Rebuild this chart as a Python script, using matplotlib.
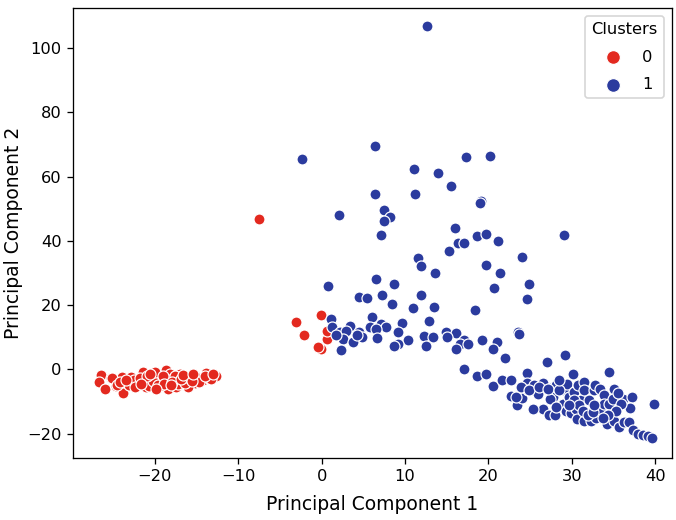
import numpy as np
import matplotlib
matplotlib.use("Agg")
import matplotlib.pyplot as plt

# PCA scores, (PC1, PC2) per point
cluster0_points = [
    (-26.4, -1.7), (-26.7, -3.9), (-26.0, -6.2), (-25.2, -2.6), (-24.6, -5.2),
    (-23.9, -2.4), (-23.8, -7.3), (-22.9, -2.4), (-23.1, -4.7), (-21.3, -1.9),
    (-21.4, -0.8), (-20.4, -3.9), (-19.2, -3.2), (-18.7, -0.1), (-18.4, -6.0),
    (-17.7, -2.7), (-17.0, -1.4), (-16.5, -4.3), (-15.8, -2.7), (-14.8, -2.4),
    (-13.8, -1.1), (-12.6, -1.9), (-19.4, -5.3), (-21.0, -5.5), (-22.0, -3.9),
    (-15.2, -4.3), (-14.2, -3.4), (-13.4, -2.9), (-19.8, -1.4), (-18.2, -1.4),
    (-17.4, -5.5), (-16.0, -5.5), (-20.7, -5.3), (-20.2, -3.7), (-19.6, -5.0),
    (-18.2, -3.4), (-17.6, -1.9), (-17.2, -4.5), (-16.4, -4.2), (-16.1, -2.4),
    (-15.0, -2.4), (-14.7, -3.9), (-13.2, -2.9), (-25.1, -2.7), (-24.5, -5.0),
    (-22.5, -3.2), (-21.8, -2.8), (-20.9, -2.2), (-20.0, -0.9), (-19.0, -2.0),
    (-18.9, -4.6), (-17.9, -3.8), (-16.8, -3.0), (-15.5, -3.6), (-14.0, -2.0),
    (-13.0, -1.5), (-24.2, -3.8), (-22.4, -5.6), (-21.6, -4.4), (-20.6, -1.5),
    (-19.9, -6.0), (-18.0, -5.0), (-16.6, -1.7), (-15.4, -1.4), (-23.4, -3.3),
    (-7.5, 46.7), (-3.05, 14.6), (-2.1, 10.8), (-0.1, 17.0), (-0.1, 6.3),
    (-0.45, 7.0), (0.6, 9.6), (0.7, 11.9),
]

cluster1_points = [
    (12.6, 106.8), (-2.3, 65.4), (6.4, 69.4), (17.3, 66.2), (20.2, 66.4),
    (11.1, 62.4), (14.0, 61.2), (15.5, 57.2), (6.4, 54.6), (11.2, 54.6),
    (19.1, 52.5), (19.0, 51.8), (2.1, 48.0), (7.5, 49.7), (8.2, 47.5),
    (7.5, 46.3), (7.1, 41.7), (16.0, 44.0), (18.6, 41.5), (19.7, 42.1),
    (16.3, 39.4), (17.1, 39.3), (21.1, 39.9), (15.3, 36.9), (24.0, 34.9),
    (29.1, 41.8), (11.6, 34.8), (11.9, 32.2), (19.7, 32.4), (21.4, 29.9),
    (13.6, 30.1), (6.5, 28.2), (24.9, 26.7), (8.7, 26.7), (20.7, 25.4),
    (24.6, 21.9), (0.8, 25.8), (4.5, 22.4), (5.4, 22.3), (7.3, 23.0),
    (11.9, 23.0), (8.5, 20.2), (11.0, 19.2), (13.5, 19.4), (18.4, 18.4),
    (12.9, 15.2), (6.1, 16.3),
    (1.1, 15.7), (1.2, 13.2), (3.35, 13.6), (5.75, 13.2), (7.1, 14.2),
    (7.7, 13.2), (9.6, 14.4), (2.2, 11.5), (2.9, 12.1), (4.5, 11.5),
    (4.8, 10.0), (6.55, 12.7), (9.2, 11.5), (2.55, 9.5), (3.75, 8.4),
    (6.6, 9.9), (10.3, 9.0), (12.3, 10.3), (13.3, 10.0), (14.9, 11.6),
    (16.1, 11.4), (15.0, 10.1), (9.2, 7.8), (8.7, 7.2), (12.5, 7.3),
    (17.1, 9.0), (16.6, 7.8), (17.5, 7.8), (16.1, 6.2), (19.2, 9.0),
    (21.0, 8.4), (20.5, 6.5), (23.5, 11.5), (23.7, 11.0), (2.3, 5.9),
    (1.7, 10.6), (4.3, 10.6), (22.0, 3.5), (27.0, 2.3), (29.2, 4.6),
    (17.1, 0.0), (18.6, -1.9), (19.7, -1.4), (20.6, -5.1), (21.6, -3.3),
    (22.7, -3.3), (24.6, -1.0), (24.6, -4.3), (30.1, -1.4), (34.4, -0.8),
    (22.7, -8.4), (23.4, -11.2), (24.0, -8.8), (24.7, -6.5), (25.9, -7.6),
    (25.5, -4.8), (26.6, -4.3), (27.5, -5.8), (26.5, -12.2), (27.3, -14.3),
    (28.0, -14.3), (27.7, -8.6), (28.1, -5.0), (28.9, -10.7), (29.0, -6.5),
    (29.4, -4.5), (29.7, -8.6), (29.3, -12.8), (29.9, -13.6), (30.5, -12.2),
    (30.2, -7.1), (30.7, -5.0), (31.1, -9.4), (31.5, -3.9), (31.5, -6.3),
    (32.0, -9.6), (30.6, -15.3), (31.5, -15.9), (32.3, -15.9), (32.9, -15.0),
    (32.7, -6.5), (32.8, -5.0), (33.4, -6.0), (33.9, -8.1), (33.5, -12.8),
    (33.9, -10.7), (35.0, -6.2), (34.5, -10.9), (34.9, -9.1), (36.1, -9.1),
    (37.2, -8.6), (37.0, -11.9), (34.2, -16.9), (35.0, -16.2), (35.7, -17.9),
    (36.3, -16.4), (36.8, -16.4), (37.3, -18.8), (37.9, -20.0), (38.5, -20.5),
    (39.1, -20.7), (39.6, -21.4), (39.8, -10.9), (27.4, -9.1), (25.3, -12.2),
    (23.3, -8.6), (23.9, -5.5), (24.9, -6.5), (26.1, -5.5), (27.1, -6.0),
    (28.5, -6.3), (30.3, -9.6), (30.9, -11.2), (31.3, -12.8), (31.9, -14.3),
    (32.5, -13.3), (32.7, -11.2), (28.1, -11.7), (29.7, -11.2), (28.5, -3.4),
    (35.5, -7.4), (35.9, -10.7), (35.3, -12.8), (34.3, -14.3), (33.7, -15.0),
]

cluster_labels = ["0", "1"]
cluster_colors = ["#e3291f", "#2b3b9e"]

c0 = np.array(cluster0_points)
c1 = np.array(cluster1_points)

fig = plt.figure(figsize=(676 / 117, 520 / 117), dpi=117)
ax = fig.add_axes([0.108, 0.119, 0.886, 0.866])

for pts, lab, col in zip([c0, c1], cluster_labels, cluster_colors):
    ax.scatter(pts[:, 0], pts[:, 1], s=46, c=col, edgecolors="white",
               linewidths=0.75, label=lab)

ax.set_xlim(-29.8, 42.0)
ax.set_ylim(-27.6, 112.5)
ax.set_xticks([-20, -10, 0, 10, 20, 30, 40])
ax.set_yticks([-20, 0, 20, 40, 60, 80, 100])
ax.set_xlabel("Principal Component 1", fontsize=11.5, labelpad=6.5)
ax.set_ylabel("Principal Component 2", fontsize=11.5, labelpad=2.5)
ax.legend(title="Clusters", loc="upper right", markerscale=1.25,
          labelspacing=0.75)

fig.savefig("out.png", dpi=117)
